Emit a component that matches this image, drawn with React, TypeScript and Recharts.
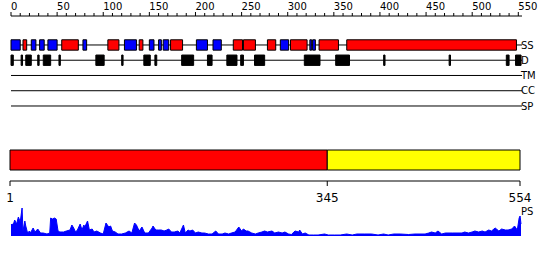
import { Area, AreaChart, ComposedChart, ReferenceArea, ReferenceLine, XAxis, YAxis } from 'recharts';

// top ruler
const rulerMajor = [0, 50, 100, 150, 200, 250, 300, 350, 400, 450, 500, 550];
const rulerTicks = Array.from({ length: 56 }, (_, i) => i * 10);

// tracks
const tracks = ['SS', 'D', 'TM', 'CC', 'SP'];

// secondary structure (residues)
const helices = [
  [13, 17], [55, 73], [105, 117], [139, 143], [173, 186], [241, 251], [252, 265],
  [278, 287], [303, 321], [334, 355], [364, 548],
];
const strands = [
  [0, 10], [22, 27], [31, 36], [40, 50], [78, 82], [123, 136], [150, 155], [160, 163],
  [165, 171], [201, 213], [219, 228], [292, 301], [324, 326], [327, 330],
];

// disorder
const disorder = [
  [0, 2.5], [11, 12.5], [16, 22], [29, 30.5], [35, 43], [52, 53.5], [92, 101], [120, 121.5],
  [144, 151], [156, 158], [185, 198], [213, 218], [234, 245], [249, 252], [264, 275],
  [318, 335], [352, 367], [404, 405.5], [475, 476.5], [537, 540], [547, 553],
];

// domains
const domainStart = [1, 345];
const domainEnd = [345, 554];
const domainColor = ['#ff0000', '#ffff00'];
const domainTicks = [1, 345, 554];

// PS profile
const psPos = [
  1, 2, 4, 5, 7, 9, 11, 13, 14, 16, 17, 19, 21, 22, 25, 27, 30, 33, 36, 40, 43, 44, 46, 48, 50,
  52, 54, 58, 61, 65, 67, 69, 71, 73, 76, 78, 80, 81, 84, 86, 89, 91, 94, 98, 101, 104, 107,
  109, 111, 114, 117, 121, 125, 129, 132, 135, 137, 140, 143, 146, 150, 154, 155, 158, 161,
  164, 167, 170, 172, 175, 178, 182, 184, 188, 190, 193, 195, 198, 201, 204, 208, 211, 215,
  219, 223, 226, 230, 233, 237, 240, 244, 248, 251, 253, 256, 258, 262, 266, 269, 273, 276,
  279, 284, 287, 291, 295, 298, 302, 305, 309, 313, 314, 317, 320, 324, 329, 334, 341, 345,
  352, 358, 365, 371, 376, 384, 392, 399, 405, 410, 416, 423, 432, 439, 450, 454, 457, 461,
  464, 468, 472, 480, 490, 493, 497, 501, 504, 508, 512, 515, 519, 522, 526, 530, 533, 537,
  540, 544, 547, 550, 552, 553, 554,
];
const psVal = [
  12, 11, 13, 16, 12, 19, 14, 28, 5, 15, 10, 3, 5, 3, 8, 4, 7, 3, 3, 2, 3, 18, 17, 18, 17,
  5, 4, 4, 5, 6, 11, 8, 4, 6, 12, 6, 11, 9, 15, 6, 7, 4, 5, 3, 2, 13, 9,
  10, 5, 4, 2, 2, 3, 5, 3, 13, 11, 5, 9, 3, 3, 8, 10, 6, 6,
  6, 5, 6, 7, 4, 4, 5, 3, 11, 3, 6, 5, 6, 3, 4, 3, 3, 2,
  2, 5, 2, 2, 3, 2, 3, 4, 9, 5, 7, 5, 5, 3, 2, 3, 4, 5,
  4, 5, 3, 4, 3, 4, 2, 1.5, 5, 4, 6, 2, 3, 1, 1, 1, 2, 1,
  1, 1, 2, 1, 2, 2, 2, 1, 2, 1, 2, 2, 1.5, 2, 2, 3, 4, 3,
  5, 2, 3, 3, 3, 4, 3, 4, 5, 4, 5, 4, 6, 5, 8, 5, 7, 6,
  6, 7, 10, 6, 18, 20, 12,
];

const psData = psPos.map((p, i) => ({ pos: p, val: psVal[i] }));

const FONT = 'DejaVu Sans, sans-serif';
const HALF = 0.34;

const RulerTick = (props: any) => {
  const { x, y, payload } = props;
  const major = rulerMajor.includes(payload.value);
  return (
    <g>
      <line x1={x} x2={x} y1={y} y2={y - (major ? 4 : 3)} stroke="#000" />
      {major && (
        <text x={x} y={y - 6} textAnchor="start" fontSize={10} fontFamily={FONT} fill="#000">
          {payload.value}
        </text>
      )}
    </g>
  );
};

const box = (key: string, seg: number[], row: number, color: string) => (
  <ReferenceArea
    key={key}
    x1={seg[0]}
    x2={seg[1]}
    y1={row - HALF}
    y2={row + HALF}
    fill={color}
    fillOpacity={1}
    stroke="#000"
    strokeWidth={1}
    ifOverflow="visible"
  />
);

export default function App() {
  return (
    <div style={{ position: 'absolute', left: 0, top: 0, width: 550, height: 260, background: '#fff' }}>
      <div style={{ position: 'absolute', left: 0, top: 0 }}>
        <ComposedChart width={550} height={122} margin={{ top: 0, left: 11, right: 28, bottom: 0 }} data={[]}>
          <XAxis
            type="number"
            orientation="top"
            dataKey="x"
            domain={[0, 554]}
            allowDataOverflow
            ticks={rulerTicks}
            interval={0}
            height={16}
            tickSize={0}
            tickMargin={0}
            tickLine={false}
            stroke="#000"
            tick={<RulerTick />}
          />
          <YAxis type="number" hide reversed domain={[-1.9, 5.05]} allowDataOverflow />
          {tracks.map((t, i) => (
            <ReferenceLine
              key={t}
              y={i}
              stroke="#000"
              zIndex={0}
              label={{ value: t, position: 'right', offset: -1, fontSize: 10, fontFamily: FONT, fill: '#000' }}
            />
          ))}
          {helices.map((s, i) => box('h' + i, s, 0, '#ff0000'))}
          {strands.map((s, i) => box('s' + i, s, 0, '#0000ff'))}
          {disorder.map((s, i) => box('d' + i, s, 1, '#000000'))}
        </ComposedChart>
      </div>

      <div style={{ position: 'absolute', left: 0, top: 140 }}>
        <ComposedChart width={550} height={71} margin={{ top: 10, left: 10, right: 30, bottom: 0 }} data={[]}>
          <XAxis
            type="number"
            dataKey="x"
            domain={[1, 554]}
            allowDataOverflow
            ticks={domainTicks}
            interval={0}
            height={30}
            tickSize={5}
            tickMargin={7}
            stroke="#000"
            tick={{ fontSize: 12, fontFamily: FONT, fill: '#000' }}
          />
          <YAxis type="number" hide domain={[0, 31]} allowDataOverflow />
          {domainStart.map((s, i) => (
            <ReferenceArea
              key={i}
              x1={s}
              x2={domainEnd[i]}
              y1={11}
              y2={31}
              fill={domainColor[i]}
              fillOpacity={1}
              stroke="#000"
              ifOverflow="visible"
            />
          ))}
        </ComposedChart>
      </div>

      <div style={{ position: 'absolute', left: 0, top: 200 }}>
        <AreaChart width={550} height={40} margin={{ top: 8, left: 11, right: 29, bottom: 4 }} data={psData}>
          <XAxis type="number" dataKey="pos" domain={[1, 554]} hide />
          <YAxis type="number" hide domain={[0, 28]} />
          <ReferenceLine
            y={25}
            stroke="none"
            label={{ value: 'PS', position: 'right', offset: 0, fontSize: 10, fontFamily: FONT, fill: '#000' }}
          />
          <Area
            type="linear"
            dataKey="val"
            stroke="#0000ff"
            fill="#0000ff"
            fillOpacity={1}
            dot={false}
            activeDot={false}
            isAnimationActive={false}
          />
        </AreaChart>
      </div>
    </div>
  );
}
